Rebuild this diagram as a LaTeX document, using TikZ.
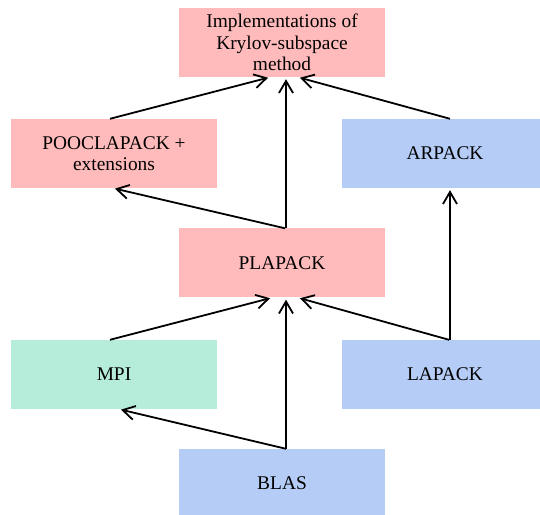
\documentclass[tikz,border=0pt]{standalone}
\usepackage{fontspec}
\setmainfont{Liberation Serif}
\usepackage{xcolor}
\usepackage{tikz}
\usetikzlibrary{arrows.meta, positioning}

\definecolor{pinkfill}{HTML}{FFBBBB}
\definecolor{bluefill}{HTML}{B5CCF6}
\definecolor{greenfill}{HTML}{B5ECDA}

\begin{document}
\begin{tikzpicture}[
      x=1pt, y=1pt,
      box/.style={rectangle, minimum width=206pt, minimum height=69pt, align=center,
        font=\fontsize{19.4}{21.5}\selectfont},
      pinkbox/.style={box, fill=pinkfill},
      bluebox/.style={box, fill=bluefill},
      greenbox/.style={box, fill=greenfill},
      dep/.style={line width=1.8pt, shorten >=2pt, -{Straight Barb[length=12pt,width=14pt]}}
    ]
      \useasboundingbox (0,0) rectangle (540,514);
      % nodes, one row per level
      \node[pinkbox] (krylov) at (282,471.5) {Implementations of\\Krylov-subspace\\method};
      \node[pinkbox] (pooclapack) at (114,360.5) {POOCLAPACK +\\extensions};
      \node[bluebox] (arpack) at (445,360.5) {ARPACK};
      \node[pinkbox] (plapack) at (282,251) {PLAPACK};
      \node[greenbox] (mpi) at (114,139.5) {MPI};
      \node[bluebox] (lapack) at (445,139.5) {LAPACK};
      \node[bluebox] (blas) at (282,30.5) {BLAS};
      % dependencies
      \draw[dep] ([xshift=-4pt]pooclapack.north) -- ([xshift=-12pt]krylov.south);
      \draw[dep] ([xshift=4pt]plapack.north) -- ([xshift=4pt]krylov.south);
      \draw[dep] ([xshift=5pt]arpack.north) -- ([xshift=16pt]krylov.south);
      \draw[dep] ([xshift=3pt]plapack.north) -- ([xshift=-1pt]pooclapack.south);
      \draw[dep] ([xshift=5pt]lapack.north) -- ([xshift=5pt]arpack.south);
      \draw[dep] ([xshift=-4pt]mpi.north) -- ([xshift=-10pt]plapack.south);
      \draw[dep] ([xshift=4pt]blas.north) -- ([xshift=4pt]plapack.south);
      \draw[dep] ([xshift=4pt]lapack.north) -- ([xshift=16pt]plapack.south);
      \draw[dep] ([xshift=4pt]blas.north) -- ([xshift=5pt]mpi.south);
\end{tikzpicture}
\end{document}
